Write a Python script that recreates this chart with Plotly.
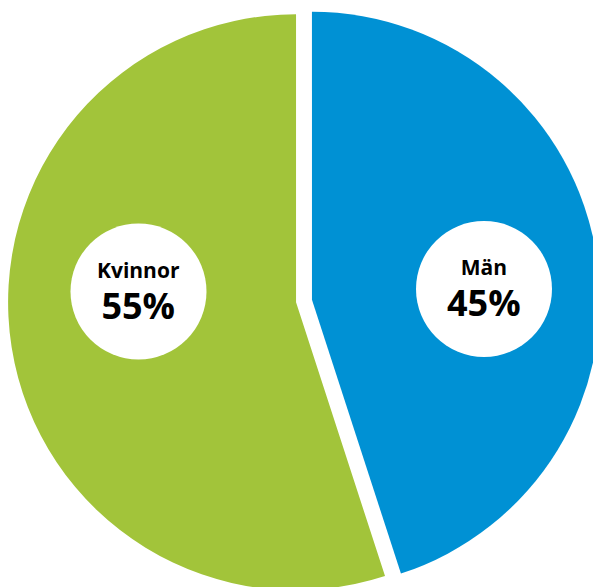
import plotly.graph_objects as go

# Data
labels = ["Män", "Kvinnor"]
values = [45, 55]
pct_text = ["45%", "55%"]
colors = ["#0091D4", "#A2C43A"]

W, H = 608, 597

fig = go.Figure(
    go.Pie(
        labels=labels,
        values=values,
        sort=False,
        direction="clockwise",
        rotation=0,
        pull=[0.028, 0.028],
        marker=dict(colors=colors, line=dict(width=0)),
        textinfo="none",
        hoverinfo="label+percent",
        domain=dict(x=[0, 1], y=[0, 592 / H]),
        showlegend=False,
    )
)

# label bubbles (pixel centres -> paper coords)
bubbles = {"Män": (484, 289), "Kvinnor": (138.5, 291.5)}
R = 68
shapes = []
annotations = []
for lab, pct in zip(labels, pct_text):
    cx, cy = bubbles[lab]
    shapes.append(dict(
        type="circle", xref="paper", yref="paper",
        x0=(cx - R) / W, x1=(cx + R) / W,
        y0=1 - (cy + R) / H, y1=1 - (cy - R) / H,
        fillcolor="white", line=dict(width=0), layer="above",
    ))
    annotations.append(dict(
        x=cx / W, y=1 - (cy + 1) / H, xref="paper", yref="paper",
        xanchor="center", yanchor="middle", align="center",
        text=("<b><span style='font-size:21px'>%s</span></b><br>"
              "<b><span style='font-size:36px'>%s</span></b>") % (lab, pct),
        showarrow=False,
        font=dict(family="Open Sans", size=31.5, color="black"),
    ))

fig.update_layout(
    width=W, height=H,
    margin=dict(l=0, r=0, t=0, b=0, pad=0),
    paper_bgcolor="white", plot_bgcolor="white",
    shapes=shapes, annotations=annotations,
)

fig.write_html(
    "out.html",
    config={"displayModeBar": False},
    post_script="document.body.style.margin='0';document.body.style.overflow='hidden';",
)
